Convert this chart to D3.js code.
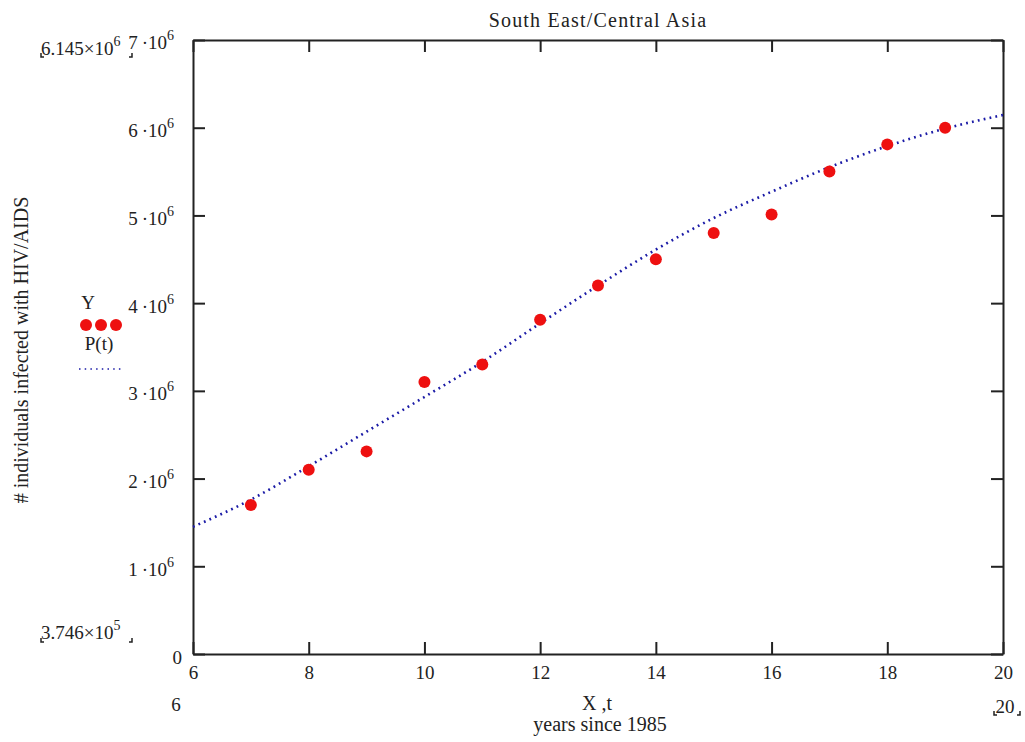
<!DOCTYPE html>
<html>
<head>
<meta charset="utf-8">
<script src="https://cdn.jsdelivr.net/npm/d3@7"></script>
<style>
  html, body { margin: 0; padding: 0; background: #fff; }
  svg { display: block; }
  text { font-family: "Liberation Serif", "Times New Roman", serif; fill: #222; }
</style>
</head>
<body>
<svg id="chart" width="1025" height="742"></svg>
<script>
// Observed totals (years since 1985)
const years = [7, 8, 9, 10, 11, 12, 13, 14, 15, 16, 17, 18, 19];
const infected = [1.70e6, 2.10e6, 2.31e6, 3.10e6, 3.30e6, 3.81e6, 4.20e6, 4.50e6, 4.80e6, 5.01e6, 5.50e6, 5.81e6, 6.00e6];

// Fitted model P(t) sampled at whole years
const fitT = [6, 7, 8, 9, 10, 11, 12, 13, 14, 15, 16, 17, 18, 19, 20];
const fitP = [1.45e6, 1.76e6, 2.14e6, 2.535e6, 2.93e6, 3.33e6, 3.77e6, 4.20e6, 4.61e6, 4.97e6, 5.27e6, 5.55e6, 5.79e6, 5.99e6, 6.145e6];

// Axis ticks
const xTicks = [6, 8, 10, 12, 14, 16, 18, 20];
const yTicks = [0, 1e6, 2e6, 3e6, 4e6, 5e6, 6e6, 7e6];

const titleText = "South East/Central Asia";
const yLabelText = "# individuals infected with HIV/AIDS";
const xLabelText = "X ,t";
const xSubLabelText = "years since 1985";
const legendNames = ["Y", "P(t)"];

const svg = d3.select("#chart");
const plotL = 193, plotR = 1003, plotT = 40, plotB = 654;

const x = d3.scaleLinear().domain([6, 20]).range([plotL, plotR]);
const y = d3.scaleLinear().domain([0, 7e6]).range([plotB, plotT]);

const red = "#ee1010";
const blue = "#1a1aa6";
const ink = "#222";
const serif = "Liberation Serif, Times New Roman, serif";

// write "m·10^e" as text with a raised exponent
function sciLabel(sel, mant, exp, sep) {
  sel.text(null);
  sel.append("tspan").text(mant + sep + "10");
  sel.append("tspan").attr("dy", -9).attr("font-size", 14).text(exp);
}

// Frame axes
const axG = svg.append("g");

const gBottom = axG.append("g").attr("transform", `translate(0,${plotB})`)
  .call(d3.axisBottom(x).tickValues(xTicks).tickSizeInner(-12).tickSizeOuter(0).tickFormat(d3.format("d")));
gBottom.selectAll(".tick text").attr("y", 25).attr("dy", 0);

axG.append("g").attr("transform", `translate(0,${plotT})`)
  .call(d3.axisTop(x).tickValues(xTicks).tickSizeInner(-12).tickSizeOuter(0).tickFormat(""));

const gLeft = axG.append("g").attr("transform", `translate(${plotL},0)`)
  .call(d3.axisLeft(y).tickValues(yTicks).tickSizeInner(-12).tickSizeOuter(0).tickPadding(19));
gLeft.selectAll(".tick text").attr("dy", "0.47em").each(function(d) {
  const t = d3.select(this);
  if (d === 0) { t.text("0").attr("dx", 8).attr("dy", "0.52em"); return; }
  sciLabel(t, String(d / 1e6), "6", "\u2009·");
});

axG.append("g").attr("transform", `translate(${plotR},0)`)
  .call(d3.axisRight(y).tickValues(yTicks).tickSizeInner(-12).tickSizeOuter(0).tickFormat(""));

axG.selectAll("g").attr("font-size", 19).attr("font-family", serif);
axG.selectAll(".domain").attr("stroke", ink).attr("stroke-width", 2);
axG.selectAll(".tick line").attr("stroke", ink).attr("stroke-width", 2);
axG.selectAll("text").attr("fill", ink);

// Range markers at the plot corners
const mk = svg.append("g").attr("font-size", 19).attr("font-family", serif).attr("fill", ink);
function corner(xp, yp, dir) {
  mk.append("path")
    .attr("d", `M${xp},${yp - 4}V${yp}h${dir * 3}`)
    .attr("fill", "none").attr("stroke", ink).attr("stroke-width", 1.5);
}
const yMaxLbl = mk.append("text").attr("x", 41).attr("y", 55);
sciLabel(yMaxLbl, "6.145", "6", "×");
corner(41, 57, 1); corner(132, 57, -1);
const yMinLbl = mk.append("text").attr("x", 41).attr("y", 639);
sciLabel(yMinLbl, "3.746", "5", "×");
corner(41, 642, 1); corner(132, 642, -1);
mk.append("text").attr("x", 176).attr("y", 711).attr("text-anchor", "middle").text("6");
mk.append("text").attr("x", 1005).attr("y", 713).attr("text-anchor", "middle").text("20");
corner(994, 715, 1); corner(1020, 715, -1);

// Fitted curve
const line = d3.line().x((d, i) => x(fitT[i])).y(d => y(d)).curve(d3.curveMonotoneX);
svg.append("path")
  .datum(fitP)
  .attr("d", line)
  .attr("fill", "none")
  .attr("stroke", blue)
  .attr("stroke-width", 2.6)
  .attr("stroke-dasharray", "1.8,4.2");

// Observed points
svg.append("g").selectAll("circle")
  .data(infected)
  .join("circle")
  .attr("cx", (d, i) => x(years[i]))
  .attr("cy", d => y(d))
  .attr("r", 6)
  .attr("fill", red);

// Titles
svg.append("text").attr("x", 598).attr("y", 27).attr("text-anchor", "middle")
  .attr("font-size", 20).attr("letter-spacing", 1.2).text(titleText);
svg.append("text").attr("transform", "translate(28,350) rotate(-90)").attr("text-anchor", "middle")
  .attr("font-size", 20).text(yLabelText);
svg.append("text").attr("x", 597).attr("y", 710).attr("text-anchor", "middle")
  .attr("font-size", 20).text(xLabelText);
svg.append("text").attr("x", 600).attr("y", 731).attr("text-anchor", "middle")
  .attr("font-size", 20).text(xSubLabelText);

// Legend
const lg = svg.append("g").attr("font-size", 19);
lg.append("text").attr("x", 88).attr("y", 309).attr("text-anchor", "middle").text(legendNames[0]);
lg.selectAll("circle").data([0, 1, 2]).join("circle")
  .attr("cx", d => 86 + d * 15).attr("cy", 325).attr("r", 6).attr("fill", red);
lg.append("text").attr("x", 99).attr("y", 350).attr("text-anchor", "middle").text(legendNames[1]);
lg.append("path").attr("d", "M79,369H123")
  .attr("stroke", blue).attr("stroke-width", 1.6).attr("stroke-dasharray", "1.5,4.2");
</script>
</body>
</html>
